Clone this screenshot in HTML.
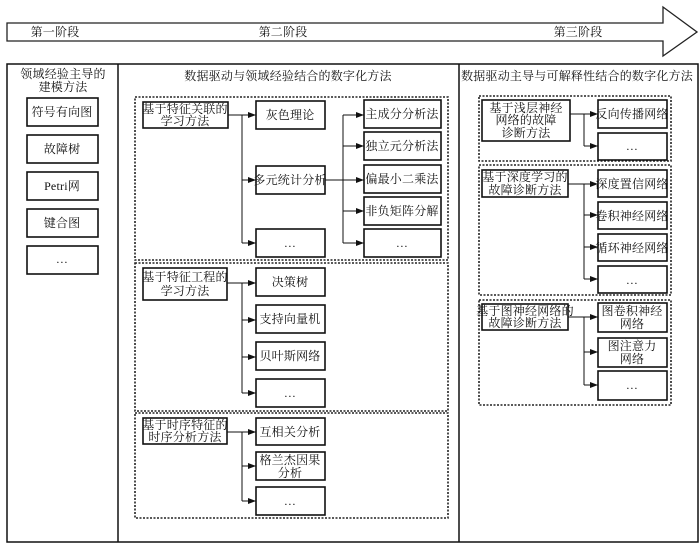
<!DOCTYPE html>
<html><head><meta charset="utf-8"><style>
html,body{margin:0;padding:0;background:#fff;}
svg{display:block;}
text{font-family:"Liberation Serif","Noto Serif CJK SC","Noto Sans CJK SC",serif;font-size:12px;fill:#111;text-anchor:middle;letter-spacing:0.2px;}
.b{fill:#fff;stroke:#111;stroke-width:1.6;}
.d{fill:none;stroke:#222;stroke-width:1.6;stroke-dasharray:2,1.5;}
.l{fill:none;stroke:#111;stroke-width:1;}
</style></head><body>
<svg width="700" height="548" viewBox="0 0 700 548" xmlns="http://www.w3.org/2000/svg">
<defs><marker id="a" markerWidth="8" markerHeight="6" refX="8" refY="3" orient="auto" markerUnits="userSpaceOnUse"><path d="M0,0 L8,3 L0,6 z" fill="#111"/></marker></defs>
<path d="M7,23 L663,23 L663,7 L697,32 L663,56 L663,41 L7,41 Z" fill="#fff" stroke="#222" stroke-width="1.3"/>
<text x="55" y="36">第一阶段</text>
<text x="283" y="36">第二阶段</text>
<text x="578" y="36">第三阶段</text>
<rect x="7" y="64" width="691" height="478" fill="none" stroke="#111" stroke-width="1.5"/>
<line x1="118" y1="64" x2="118" y2="542" stroke="#111" stroke-width="1.5"/>
<line x1="459" y1="64" x2="459" y2="542" stroke="#111" stroke-width="1.5"/>
<text x="63" y="78">领域经验主导的</text>
<text x="63" y="91">建模方法</text>
<rect class="b" x="27" y="98" width="71" height="28"/><text x="62" y="116">符号有向图</text>
<rect class="b" x="27" y="135" width="71" height="28"/><text x="62" y="153">故障树</text>
<rect class="b" x="27" y="172" width="71" height="28"/><text x="62" y="190">Petri网</text>
<rect class="b" x="27" y="209" width="71" height="28"/><text x="62" y="227">键合图</text>
<rect class="b" x="27" y="246" width="71" height="28"/><text x="62" y="263">…</text>
<text x="288" y="80">数据驱动与领域经验结合的数字化方法</text>
<rect class="d" x="135" y="97" width="313" height="163"/>
<rect class="b" x="143" y="102" width="85" height="26"/><text x="185" y="113">基于特征关联的</text><text x="185" y="125">学习方法</text>
<path class="l" d="M228,115 H242 M242,115 V243"/>
<line class="l" x1="242" y1="115" x2="256" y2="115" marker-end="url(#a)"/>
<line class="l" x1="242" y1="180" x2="256" y2="180" marker-end="url(#a)"/>
<line class="l" x1="242" y1="243" x2="256" y2="243" marker-end="url(#a)"/>
<rect class="b" x="256" y="101" width="69" height="28"/><text x="290" y="119">灰色理论</text>
<rect class="b" x="256" y="166" width="69" height="28"/><text x="290" y="184">多元统计分析</text>
<rect class="b" x="256" y="229" width="69" height="28"/><text x="290" y="247">…</text>
<path class="l" d="M325,180 H343 M343,115 V243"/>
<line class="l" x1="343" y1="115" x2="364" y2="115" marker-end="url(#a)"/>
<line class="l" x1="343" y1="146" x2="364" y2="146" marker-end="url(#a)"/>
<line class="l" x1="343" y1="180" x2="364" y2="180" marker-end="url(#a)"/>
<line class="l" x1="343" y1="211" x2="364" y2="211" marker-end="url(#a)"/>
<line class="l" x1="343" y1="243" x2="364" y2="243" marker-end="url(#a)"/>
<rect class="b" x="364" y="100" width="77" height="28"/><text x="402" y="118">主成分分析法</text>
<rect class="b" x="364" y="132" width="77" height="28"/><text x="402" y="150">独立元分析法</text>
<rect class="b" x="364" y="165" width="77" height="28"/><text x="402" y="183">偏最小二乘法</text>
<rect class="b" x="364" y="197" width="77" height="28"/><text x="402" y="215">非负矩阵分解</text>
<rect class="b" x="364" y="229" width="77" height="28"/><text x="402" y="247">…</text>
<rect class="d" x="135" y="263" width="313" height="148"/>
<rect class="b" x="143" y="268" width="84" height="32"/><text x="185" y="281">基于特征工程的</text><text x="185" y="295">学习方法</text>
<path class="l" d="M227,283 H242 M242,283 V393"/>
<line class="l" x1="242" y1="283" x2="256" y2="283" marker-end="url(#a)"/>
<line class="l" x1="242" y1="320" x2="256" y2="320" marker-end="url(#a)"/>
<line class="l" x1="242" y1="357" x2="256" y2="357" marker-end="url(#a)"/>
<line class="l" x1="242" y1="393" x2="256" y2="393" marker-end="url(#a)"/>
<rect class="b" x="256" y="268" width="69" height="28"/><text x="290" y="286">决策树</text>
<rect class="b" x="256" y="305" width="69" height="28"/><text x="290" y="323">支持向量机</text>
<rect class="b" x="256" y="342" width="69" height="28"/><text x="290" y="360">贝叶斯网络</text>
<rect class="b" x="256" y="379" width="69" height="28"/><text x="290" y="397">…</text>
<rect class="d" x="135" y="413" width="313" height="105"/>
<rect class="b" x="143" y="418" width="84" height="26"/><text x="185" y="429">基于时序特征的</text><text x="185" y="441">时序分析方法</text>
<path class="l" d="M227,432 H242 M242,432 V501"/>
<line class="l" x1="242" y1="432" x2="256" y2="432" marker-end="url(#a)"/>
<line class="l" x1="242" y1="466" x2="256" y2="466" marker-end="url(#a)"/>
<line class="l" x1="242" y1="501" x2="256" y2="501" marker-end="url(#a)"/>
<rect class="b" x="256" y="418" width="69" height="27"/><text x="290" y="436">互相关分析</text>
<rect class="b" x="256" y="452" width="69" height="28"/><text x="290" y="464">格兰杰因果</text><text x="290" y="477">分析</text>
<rect class="b" x="256" y="487" width="69" height="28"/><text x="290" y="505">…</text>
<text x="577" y="80">数据驱动主导与可解释性结合的数字化方法</text>
<rect class="d" x="479" y="96" width="192" height="65"/>
<rect class="b" x="482" y="100" width="88" height="41"/><text x="526" y="112">基于浅层神经</text><text x="526" y="124">网络的故障</text><text x="526" y="137">诊断方法</text>
<path class="l" d="M570,114 H584 M584,114 V146"/>
<line class="l" x1="584" y1="114" x2="598" y2="114" marker-end="url(#a)"/>
<line class="l" x1="584" y1="146" x2="598" y2="146" marker-end="url(#a)"/>
<rect class="b" x="598" y="100" width="69" height="28"/><text x="632" y="118">反向传播网络</text>
<rect class="b" x="598" y="133" width="69" height="27"/><text x="632" y="150">…</text>
<rect class="d" x="479" y="165" width="192" height="130"/>
<rect class="b" x="482" y="170" width="86" height="27"/><text x="525" y="181">基于深度学习的</text><text x="525" y="194">故障诊断方法</text>
<path class="l" d="M568,184 H584 M584,184 V279"/>
<line class="l" x1="584" y1="184" x2="598" y2="184" marker-end="url(#a)"/>
<line class="l" x1="584" y1="215" x2="598" y2="215" marker-end="url(#a)"/>
<line class="l" x1="584" y1="247" x2="598" y2="247" marker-end="url(#a)"/>
<line class="l" x1="584" y1="279" x2="598" y2="279" marker-end="url(#a)"/>
<rect class="b" x="598" y="170" width="69" height="27"/><text x="632" y="188">深度置信网络</text>
<rect class="b" x="598" y="202" width="69" height="27"/><text x="632" y="220">卷积神经网络</text>
<rect class="b" x="598" y="234" width="69" height="27"/><text x="632" y="252">循环神经网络</text>
<rect class="b" x="598" y="266" width="69" height="27"/><text x="632" y="284">…</text>
<rect class="d" x="479" y="300" width="192" height="105"/>
<rect class="b" x="482" y="304" width="86" height="26"/><text x="525" y="315">基于图神经网络的</text><text x="525" y="327">故障诊断方法</text>
<path class="l" d="M568,317 H584 M584,317 V385"/>
<line class="l" x1="584" y1="317" x2="598" y2="317" marker-end="url(#a)"/>
<line class="l" x1="584" y1="352" x2="598" y2="352" marker-end="url(#a)"/>
<line class="l" x1="584" y1="385" x2="598" y2="385" marker-end="url(#a)"/>
<rect class="b" x="598" y="303" width="69" height="29"/><text x="632" y="315">图卷积神经</text><text x="632" y="328">网络</text>
<rect class="b" x="598" y="338" width="69" height="29"/><text x="632" y="350">图注意力</text><text x="632" y="363">网络</text>
<rect class="b" x="598" y="371" width="69" height="29"/><text x="632" y="389">…</text>
</svg>
</body></html>
